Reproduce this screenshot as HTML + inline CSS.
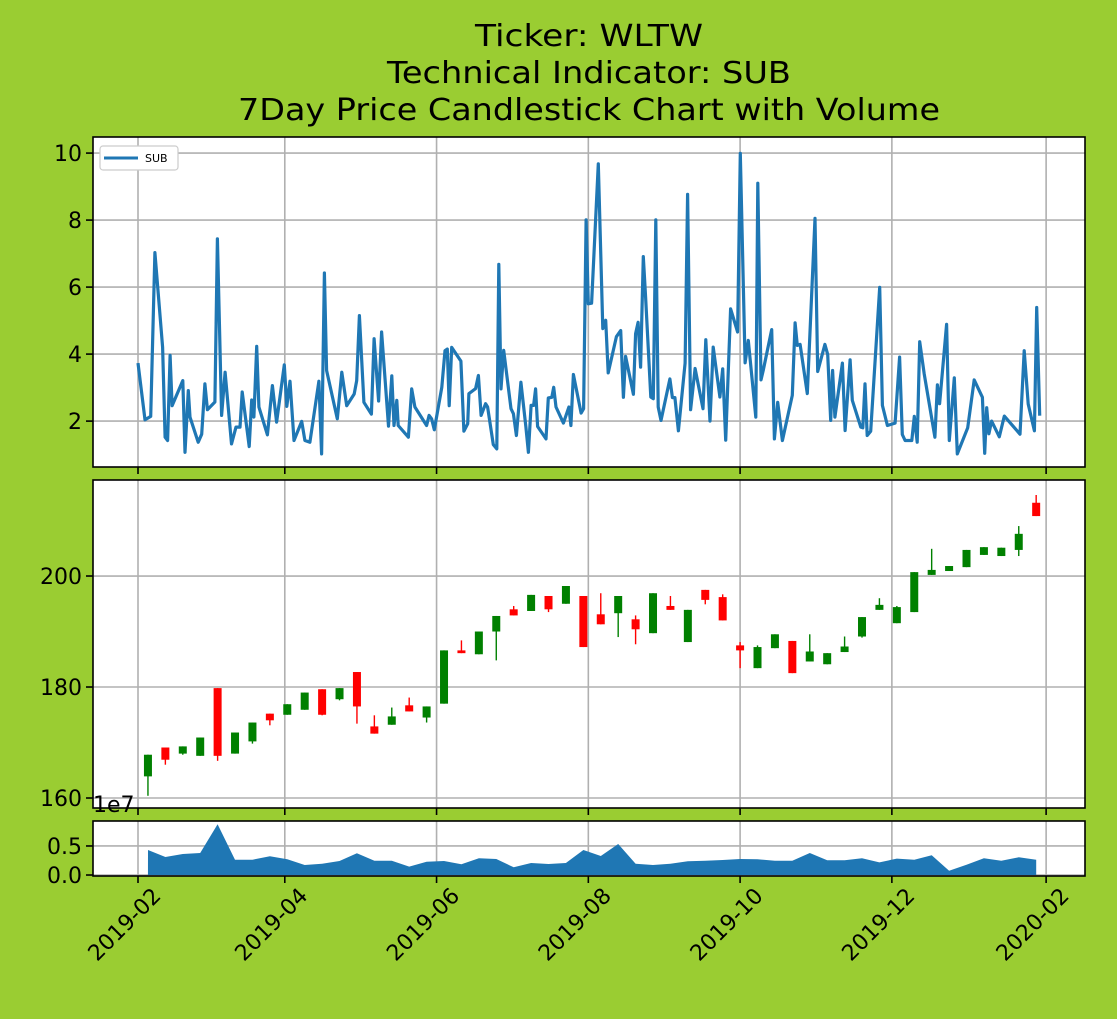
<!DOCTYPE html>
<html><head><meta charset="utf-8"><style>
html,body{margin:0;padding:0;background:#9acd32;}
svg{display:block;font-family:"DejaVu Sans","Liberation Sans",sans-serif;}
</style></head><body>
<svg id="chart" width="1117" height="1019" viewBox="0 0 1117 1019">
<rect x="0" y="0" width="1117" height="1019" fill="#9acd32"/>
<text x="589" y="46" font-size="30" text-anchor="middle" textLength="228" lengthAdjust="spacingAndGlyphs">Ticker: WLTW</text>
<text x="589" y="83" font-size="30" text-anchor="middle" textLength="404" lengthAdjust="spacingAndGlyphs">Technical Indicator: SUB</text>
<text x="589" y="120" font-size="30" text-anchor="middle" textLength="702" lengthAdjust="spacingAndGlyphs">7Day Price Candlestick Chart with Volume</text>
<g id="g"></g>
</svg>
<script>
// SUB indicator: day offsets from 2019-02-01 and values
const subDays = [0,2.8,5.1,6.8,9.9,10.9,11.9,12.9,13.7,18.0,18.9,20.2,20.9,24.2,25.6,26.9,27.9,30.9,31.9,33.6,35.0,37.6,39.4,41.0,41.9,44.7,45.7,46.6,47.7,48.6,52.0,54.0,55.7,58.8,59.8,61.1,62.7,65.8,67.1,69.1,72.7,73.8,74.9,75.8,80.1,81.9,83.9,86.9,87.9,89.0,90.8,93.8,94.9,96.7,97.9,100.7,102.0,102.9,104.0,104.6,108.7,110.0,111.3,116.0,117.0,118.0,119.1,122.1,123.4,124.3,125.1,126.1,
129.8,131.0,132.5,133.0,135.7,136.8,137.9,139.7,140.5,142.8,144.2,145.0,145.9,147.0,149.9,150.9,152.1,153.9,155.9,156.9,158.0,159.0,159.8,160.6,164.0,164.9,166.3,167.1,168.0,171.0,173.2,174.0,175.0,178.1,179.1,180.1,181.0,182.3,185.0,186.8,188.0,189.0,192.3,194.0,195.1,196.0,199.1,200.0,201.0,202.0,203.1,204.0,206.1,207.1,208.1,209.1,210.2,213.8,214.8,215.8,217.2,219.9,220.9,222.1,223.9,227.1,228.2,229.9,231.2,233.9,235.0,236.2,238.2,241.0,242.1,244.0,245.3,248.3,249.1,250.4,251.3,254.7,255.8,
257.1,259.0,263.0,264.1,265.0,266.1,269.0,272.1,273.2,276.1,277.2,278.4,279.2,280.1,283.1,284.2,286.2,287.1,290.5,291.3,292.2,293.1,294.5,298.1,299.2,301.2,304.3,306.1,307.2,308.3,311.0,312.0,313.2,314.2,316.0,320.3,321.3,322.2,325.0,326.1,328.1,329.3,333.5,336.1,339.4,340.3,341.1,342.0,343.1,346.2,348.2,354.5,356.2,357.8,360.3,361.2,362.4];
const subVals = [3.73,2.04,2.14,7.03,4.21,1.52,1.42,3.96,2.46,3.21,1.07,2.91,2.12,1.37,1.61,3.11,2.34,2.57,7.44,2.17,3.46,1.32,1.82,1.82,2.87,1.24,2.63,2.12,4.23,2.42,1.59,3.06,1.97,3.68,2.44,3.19,1.42,1.99,1.42,1.37,3.19,1.02,6.42,3.51,2.07,3.46,2.46,2.81,3.21,5.15,2.56,2.21,4.46,2.60,4.66,1.85,3.35,1.87,2.62,1.87,1.52,2.96,2.42,1.87,2.17,2.07,1.74,3.01,4.10,4.15,2.46,4.20,
3.79,1.70,1.92,2.82,2.97,3.36,2.17,2.52,2.42,1.30,1.17,6.68,2.96,4.11,2.37,2.22,1.57,3.16,1.82,1.07,2.47,2.47,2.96,1.84,1.47,2.69,2.71,3.01,2.42,1.94,2.42,1.87,3.39,2.24,2.37,8.01,5.50,5.52,9.68,4.76,5.01,3.44,4.52,4.70,2.71,3.93,2.80,4.61,4.95,3.61,6.91,5.70,2.72,2.67,8.01,2.42,2.02,3.26,2.70,2.70,1.71,3.73,8.77,2.34,3.57,2.37,4.43,2.00,4.21,2.72,3.56,1.43,5.35,4.66,9.99,3.74,4.41,2.12,9.10,3.23,3.51,4.73,1.47,
2.56,1.42,2.77,4.93,4.26,4.29,2.82,8.05,3.48,4.29,3.99,2.02,3.51,2.12,3.73,1.72,3.83,2.62,1.82,1.80,3.11,1.57,1.70,5.99,2.47,1.87,1.94,3.91,1.60,1.42,1.42,2.14,1.37,4.37,3.41,1.52,3.08,2.52,4.89,1.42,3.29,1.02,1.80,3.23,2.71,1.04,2.40,1.62,2.00,1.53,2.15,1.61,4.10,2.51,1.71,5.39,2.16];
// Weekly candles
const candleOpen  = [163.9,169.1,168.0,167.6,179.8,168.0,170.2,175.2,175.0,175.9,179.6,177.8,182.7,172.9,173.2,176.7,174.5,177.0,186.6,185.9,190.0,194.0,193.7,196.4,195.0,196.4,193.1,193.3,192.2,189.7,194.6,188.1,197.5,196.2,187.5,183.4,187.0,188.3,184.6,184.1,186.3,189.1,193.9,191.5,193.5,200.2,200.9,201.6,203.8,203.6,204.7,213.2];
const candleClose = [167.8,166.9,169.3,170.9,167.6,171.8,173.6,174.0,176.9,179.0,175.0,179.8,176.5,171.6,174.7,175.6,176.5,186.6,186.1,190.0,192.8,192.9,196.6,194.0,198.2,187.2,191.3,196.4,190.4,196.9,193.9,193.9,195.7,192.0,186.6,187.2,189.5,182.5,186.4,186.1,187.3,192.6,194.8,194.4,200.7,201.1,201.8,204.7,205.2,205.1,207.6,210.8];
const candleHigh  = [167.8,169.1,169.3,170.9,179.8,171.8,173.6,175.2,176.9,179.0,179.6,179.8,182.7,174.9,176.3,178.1,176.5,186.6,188.4,190.0,192.8,194.6,196.6,196.4,198.2,196.4,196.9,196.4,192.9,196.9,196.4,193.9,197.5,196.7,188.1,187.5,189.5,188.3,189.5,186.1,189.1,192.6,196.0,194.6,200.7,204.9,201.8,204.7,205.2,205.1,209.0,214.6];
const candleLow   = [160.4,166.0,167.8,167.6,166.7,168.0,169.8,173.1,175.0,175.9,174.9,177.6,173.4,171.6,173.2,175.6,173.6,177.0,186.1,185.9,184.8,192.9,193.7,193.5,195.0,187.2,191.3,189.0,187.7,189.7,193.9,188.1,194.9,192.0,183.4,183.4,187.0,182.5,184.6,184.1,186.3,188.9,193.9,191.5,193.5,200.2,200.9,201.6,203.8,203.6,203.6,210.8];
// Weekly volume (millions of shares)
const volumes = [4.31,3.10,3.62,3.79,8.74,2.64,2.64,3.22,2.70,1.72,1.95,2.41,3.74,2.47,2.47,1.44,2.30,2.41,1.84,2.87,2.76,1.32,2.07,1.90,2.07,4.31,3.28,5.34,1.95,1.72,1.95,2.36,2.47,2.59,2.76,2.70,2.47,2.47,3.79,2.53,2.53,2.87,2.18,2.82,2.64,3.39,0.75,1.78,2.87,2.47,3.05,2.64];
const xTickDays = [0,59,120,181,242,303,365];
const xTickLabels = ["2019-02","2019-04","2019-06","2019-08","2019-10","2019-12","2020-02"];
const subTicks = [2,4,6,8,10];
const priceTicks = [160,180,200];
const volTicks = [0,0.5];
const volTickLabels = ["0.0","0.5"];

const NS="http://www.w3.org/2000/svg";
const g=document.getElementById('g');
function el(tag,attrs,parent){const e=document.createElementNS(NS,tag);for(const k in attrs)e.setAttribute(k,attrs[k]);(parent||g).appendChild(e);return e;}
const X0=93,X1=1085;
const xs=d=>138+d*2.488;
const panels=[
 {name:'indicator',top:137,bot:467,min:0.63,max:10.48},
 {name:'price',top:480,bot:808,min:158.2,max:217.3},
 {name:'volume',top:821,bot:876,min:-0.017,max:0.93}
];
const ys=(p,v)=>p.bot-(v-p.min)/(p.max-p.min)*(p.bot-p.top);
const [P1,P2,P3]=panels;

panels.forEach(p=>{
  const bg=el('rect',{x:X0,y:p.top,width:X1-X0,height:p.bot-p.top,fill:'#fff'});
  
  
  xTickDays.forEach((d,i)=>{
    const gl=el('line',{x1:xs(d),x2:xs(d),y1:p.top,y2:p.bot,stroke:'#b0b0b0','stroke-width':1.6});
    
    
    const tk=el('line',{x1:xs(d),x2:xs(d),y1:p.bot,y2:p.bot+7,stroke:'#000','stroke-width':1.6});
    
    
  });
});
function yAxis(p,ticks,labels){
  ticks.forEach((t,i)=>{
    const y=ys(p,t);
    const gl=el('line',{x1:X0,x2:X1,y1:y,y2:y,stroke:'#b0b0b0','stroke-width':1.6});
    
    
    const tk=el('line',{x1:X0-7,x2:X0,y1:y,y2:y,stroke:'#000','stroke-width':1.6});
    
    
    const tx=el('text',{x:X0-11,y:y+8,'font-size':22,'text-anchor':'end'});
    tx.textContent=labels?labels[i]:String(t);
    
    
  });
}
yAxis(P1,subTicks);yAxis(P2,priceTicks);yAxis(P3,volTicks,volTickLabels);

// SUB line
let d='';subDays.forEach((dd,i)=>{d+=(i?'L':'M')+xs(dd).toFixed(1)+','+ys(P1,subVals[i]).toFixed(1);});
const ln=el('path',{d:d,fill:'none',stroke:'#1f77b4','stroke-width':3.2,'stroke-linejoin':'round'});



// candles
candleOpen.forEach((o,i)=>{
  const c=candleClose[i],x=xs(4+7*i),col=c>=o?'#008000':'#ff0000';
  const w=el('line',{x1:x,x2:x,y1:ys(P2,candleHigh[i]),y2:ys(P2,candleLow[i]),stroke:col,'stroke-width':1.4});
  
  
  const yt=ys(P2,Math.max(o,c)),yb=ys(P2,Math.min(o,c));
  const b=el('rect',{x:x-4,y:yt,width:8,height:Math.max(1,yb-yt),fill:col});
  
  
});

// volume area
let va='M'+xs(4)+','+ys(P3,0);
volumes.forEach((v,i)=>{va+='L'+xs(4+7*i).toFixed(1)+','+ys(P3,v/10).toFixed(1);});
va+='L'+xs(4+7*(volumes.length-1)).toFixed(1)+','+ys(P3,0)+'Z';
const ar=el('path',{d:va,fill:'#1f77b4'});



// frames
panels.forEach(p=>{
  const f=el('rect',{x:X0,y:p.top,width:X1-X0,height:p.bot-p.top,fill:'none',stroke:'#000','stroke-width':1.6});
  
  
});
// x tick labels
xTickDays.forEach((dd,i)=>{
  const cx=xs(dd)-14,cy=924;
  const t=el('text',{x:cx,y:cy+8,'font-size':22,'text-anchor':'middle',transform:'rotate(-45 '+cx+' '+cy+')'});
  t.textContent=xTickLabels[i];
  
  
});
// offset label
const off=el('text',{x:93,y:812,'font-size':22});
off.textContent='1e7';


// legend
const lg=el('rect',{x:100,y:146,width:78,height:24,rx:3,fill:'#fff',stroke:'#cccccc','stroke-width':1.2});


const ll=el('line',{x1:104,x2:138,y1:158,y2:158,stroke:'#1f77b4','stroke-width':3});


const lt=el('text',{x:145,y:162,'font-size':11});
lt.textContent='SUB';


</script>
</body></html>
